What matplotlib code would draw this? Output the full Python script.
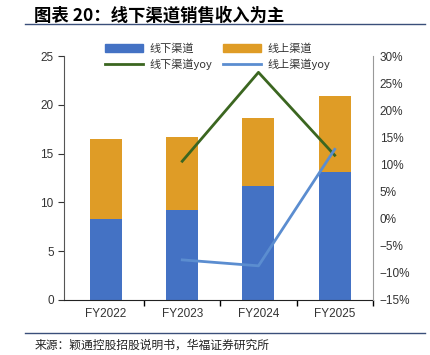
import matplotlib
matplotlib.use('Agg')
import matplotlib.pyplot as plt
from matplotlib.lines import Line2D
from matplotlib.patches import Patch

plt.rcParams['font.family'] = ['Liberation Sans', 'Noto Sans CJK SC', 'DejaVu Sans']

# data (亿元 / %)
years = ['FY2022', 'FY2023', 'FY2024', 'FY2025']
offline = [8.3, 9.2, 11.7, 13.1]
online = [8.2, 7.5, 7.0, 7.8]
offline_yoy = [None, 10.6, 27.0, 11.7]
online_yoy = [None, -7.6, -8.7, 12.8]

c_off = '#4472C4'
c_on = '#DF9C26'
c_off_yoy = '#3B6620'
c_on_yoy = '#5B8DD0'

fig = plt.figure(figsize=(4.3, 3.55), dpi=100)
ax = fig.add_axes([0.149, 0.155, 0.718, 0.687])
x = list(range(len(years)))

ax.bar(x, offline, width=0.42, color=c_off, zorder=2)
ax.bar(x, online, width=0.42, bottom=offline, color=c_on, zorder=2)
ax.set_xlim(-0.55, 3.5)
ax.set_ylim(0, 25)
ax.set_yticks(range(0, 26, 5))
ax.set_xticks(x)
ax.set_xticklabels(years)
ax.tick_params(axis='x', length=0, labelsize=8.5, pad=6)
ax.set_xticks([0.5, 1.5, 2.5, 3.5], minor=True)
ax.tick_params(axis='x', which='minor', length=4, width=1, direction='out')
ax.tick_params(axis='y', length=4, labelsize=8.5, colors='#333333', direction='out')
ax.tick_params(axis='x', colors='#333333')
for s in ['top', 'right']:
    ax.spines[s].set_visible(False)
ax.spines['left'].set_color('#555555')
ax.spines['bottom'].set_color('#222222')

ax2 = ax.twinx()
ax2.set_ylim(-15, 30)
ax2.set_yticks(range(-15, 31, 5))
ax2.set_yticklabels([f'{v}%'.replace('-', '\u2212') for v in range(-15, 31, 5)])
ax2.tick_params(axis='y', length=0, labelsize=8.5, colors='#333333', pad=5)
for s in ['top', 'left', 'bottom']:
    ax2.spines[s].set_visible(False)
ax2.spines['right'].set_color('#999999')
ax2.plot(x[1:], offline_yoy[1:], color=c_off_yoy, lw=2, zorder=3)
ax2.plot(x[1:], online_yoy[1:], color=c_on_yoy, lw=2, zorder=3)

# legend fills column by column
handles = [Patch(color=c_off), Line2D([], [], color=c_off_yoy, lw=2),
           Patch(color=c_on), Line2D([], [], color=c_on_yoy, lw=2)]
labels = ['线下渠道', '线下渠道yoy', '线上渠道', '线上渠道yoy']
leg = ax.legend(handles, labels, ncol=2, loc='upper left', bbox_to_anchor=(0.1, 1.095),
                frameon=False, fontsize=8, handlelength=3.4, handleheight=0.7,
                columnspacing=1.0, labelspacing=0.45, handletextpad=0.6)
for t in leg.get_texts():
    t.set_color('#333333')
    t.set_family(['Noto Sans CJK SC', 'DejaVu Sans'])

fig.text(0.08, 0.955, '图表 20：线下渠道销售收入为主', fontsize=12.5, fontweight='bold',
         family=['Noto Sans CJK SC'], va='center')
fig.add_artist(Line2D([0.058, 0.988], [0.932, 0.932], color='#3A4F7A', lw=1))
fig.add_artist(Line2D([0.058, 0.988], [0.062, 0.062], color='#3A4F7A', lw=1))
fig.text(0.08, 0.028, '来源：颖通控股招股说明书，华福证券研究所', fontsize=8.5,
         family=['Noto Sans CJK SC'], va='center', color='#222222')

fig.savefig('out.png', dpi=100)
